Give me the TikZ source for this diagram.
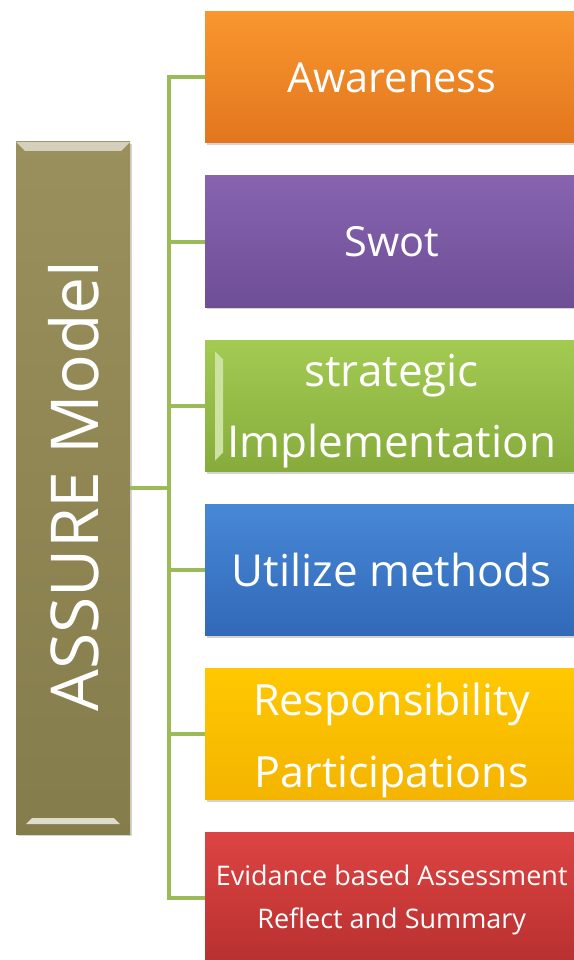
\documentclass[tikz,border=0pt]{standalone}
\usepackage{fontspec}
\setmainfont{Open Sans}
\usetikzlibrary{shadows}

\definecolor{modelolive}{HTML}{948A54}
\definecolor{linkgreen}{HTML}{9BBB59}
\definecolor{orangetop}{HTML}{F9962E}
\definecolor{orangebot}{HTML}{E2761E}
\definecolor{purpletop}{HTML}{8763B0}
\definecolor{purplebot}{HTML}{6E4F96}
\definecolor{greentop}{HTML}{A3CB52}
\definecolor{greenbot}{HTML}{86AB3C}
\definecolor{bluetop}{HTML}{4788D6}
\definecolor{bluebot}{HTML}{3169B8}
\definecolor{yellowtop}{HTML}{FFC800}
\definecolor{yellowbot}{HTML}{F4B400}
\definecolor{redtop}{HTML}{DC4442}
\definecolor{redbot}{HTML}{B83030}

% two lines, lowered a little inside the box
\newcommand{\twolines}[3]{\raisebox{-#1}[\height][\depth]{\parbox{373pt}{\centering #2\\#3}}}

\begin{document}
\begin{tikzpicture}[
        x=1pt, y=-1pt,
        stage/.style={rectangle, minimum width=373pt, minimum height=131pt, anchor=west,
            align=center, text=white, font=\fontsize{41.5}{71}\selectfont, inner sep=0pt,
            drop shadow={opacity=0.35, shadow xshift=1.5pt, shadow yshift=-2pt}},
        bigstage/.style={stage, font=\fontsize{44}{71}\selectfont},
        smallstage/.style={stage, font=\fontsize{27}{43}\selectfont},
        link/.style={draw=linkgreen, line width=4pt}
    ]
        \useasboundingbox (0,0) rectangle (573,960);

        % Left box - ASSURE Model
        \node[rectangle, minimum width=114pt, minimum height=692pt, inner sep=0pt,
            top color=modelolive!95!white, bottom color=modelolive!90!black,
            drop shadow={opacity=0.35, shadow xshift=1.5pt, shadow yshift=-2pt}] (model) at (73,488) {};
        \fill[modelolive!40!white] (model.north west) -- (model.north east) -- ([shift={(-9pt,-9pt)}]model.north east) -- ([shift={(9pt,-9pt)}]model.north west) -- cycle;
        \fill[modelolive!30!white] ([shift={(10pt,10pt)}]model.south west) -- ([shift={(-10pt,10pt)}]model.south east) -- ([shift={(-16pt,16pt)}]model.south east) -- ([shift={(16pt,16pt)}]model.south west) -- cycle;
        \node[rotate=90, text=white, font=\fontsize{66}{70}\selectfont] (modeltext) at ([xshift=1pt,yshift=2pt]model.center) {ASSURE Model};

        % Right column - stages
        \node[stage, top color=orangetop, bottom color=orangebot] (aware) at (205,77.5) {Awareness};
        \node[stage, top color=purpletop, bottom color=purplebot] (swot) at (205,241.5) {Swot};
        \node[bigstage, top color=greentop, bottom color=greenbot] (strategic) at (205,406) {\twolines{5pt}{strategic}{Implementation}};
        \fill[greentop!55!white] ([shift={(10pt,-11pt)}]strategic.north west) -- ([shift={(18pt,-19pt)}]strategic.north west) -- ([shift={(18pt,19pt)}]strategic.south west) -- ([shift={(10pt,11pt)}]strategic.south west) -- cycle;
        \node[bigstage, top color=bluetop, bottom color=bluebot] (utilize) at (205,570) {Utilize methods};
        \node[stage, font=\fontsize{43}{72}\selectfont, top color=yellowtop, bottom color=yellowbot] (respons) at (205,734) {\twolines{6pt}{Responsibility}{Participations}};
        \node[smallstage, top color=redtop, bottom color=redbot] (evidence) at (205,898) {\twolines{2pt}{Evidance based Assessment}{Reflect and Summary}};

        % Connectors
        \coordinate (trunk) at (169,488);
        \draw[link] (model.east) -- (trunk);
        \foreach \s in {aware, swot, strategic, utilize, respons, evidence}
            \draw[link] (\s.west) -| (trunk);
    \end{tikzpicture}
\end{document}
